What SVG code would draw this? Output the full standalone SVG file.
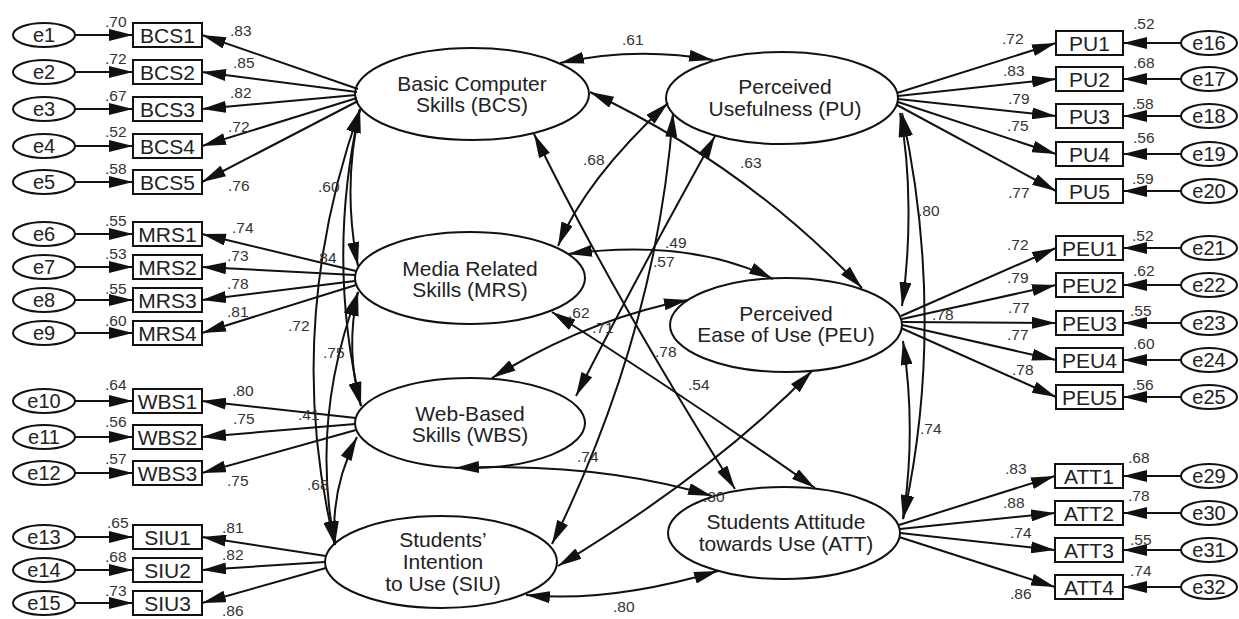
<svg xmlns="http://www.w3.org/2000/svg" width="1239" height="619" viewBox="0 0 1239 619">
<defs>
<marker id="ah" viewBox="0 0 24 12" markerUnits="userSpaceOnUse" markerWidth="24" markerHeight="12" refX="24" refY="6" orient="auto-start-reverse"><path d="M0,0 L24,6 L0,12 z" fill="#111"/></marker>
</defs>
<style>
.lat{fill:#fff;stroke:#111;stroke-width:2}
.box{fill:#fff;stroke:#111;stroke-width:2}
.err{fill:#fff;stroke:#111;stroke-width:2}
.c{fill:none;stroke:#111;stroke-width:2;marker-end:url(#ah)}
.d{fill:none;stroke:#111;stroke-width:2;marker-start:url(#ah);marker-end:url(#ah)}
text{font-family:"Liberation Sans",Arial,sans-serif;fill:#222}
.lt{font-size:21px;text-anchor:middle}
.bt{font-size:21px;text-anchor:middle}
.et{font-size:20px;text-anchor:middle}
.n{font-size:15.5px;fill:#333}
</style>
<rect width="1239" height="619" fill="#fff"/>
<g id="latents">
<g id="BCS"><ellipse class="lat" cx="472" cy="94" rx="117" ry="46"/><text class="lt" x="472" y="91">Basic Computer</text><text class="lt" x="472" y="112">Skills (BCS)</text></g>
<g id="MRS"><ellipse class="lat" cx="470" cy="278" rx="115" ry="46"/><text class="lt" x="470" y="276">Media Related</text><text class="lt" x="470" y="297">Skills (MRS)</text></g>
<g id="WBS"><ellipse class="lat" cx="470" cy="423" rx="115" ry="45"/><text class="lt" x="470" y="421">Web-Based</text><text class="lt" x="470" y="442">Skills (WBS)</text></g>
<g id="SIU"><ellipse class="lat" cx="441" cy="562" rx="116" ry="46"/><text class="lt" x="443" y="547">Students’</text><text class="lt" x="443" y="569">Intention</text><text class="lt" x="443" y="591">to Use (SIU)</text></g>
<g id="PU"><ellipse class="lat" cx="782" cy="98" rx="116" ry="46"/><text class="lt" x="785" y="94">Perceived</text><text class="lt" x="785" y="116">Usefulness (PU)</text></g>
<g id="PEU"><ellipse class="lat" cx="786" cy="325" rx="116" ry="47"/><text class="lt" x="786" y="321">Perceived</text><text class="lt" x="786" y="342">Ease of Use (PEU)</text></g>
<g id="ATT"><ellipse class="lat" cx="784" cy="533" rx="116" ry="46"/><text class="lt" x="786" y="529">Students Attitude</text><text class="lt" x="786" y="551">towards Use (ATT)</text></g>
</g>
<g id="indicators">
<g id="BCS1"><rect class="box" x="133" y="23" width="69" height="24"/><text class="bt" x="167.5" y="42.5">BCS1</text></g>
<g id="BCS2"><rect class="box" x="133" y="60" width="69" height="24"/><text class="bt" x="167.5" y="79.5">BCS2</text></g>
<g id="BCS3"><rect class="box" x="133" y="97" width="69" height="24"/><text class="bt" x="167.5" y="116.5">BCS3</text></g>
<g id="BCS4"><rect class="box" x="133" y="134" width="69" height="24"/><text class="bt" x="167.5" y="153.5">BCS4</text></g>
<g id="BCS5"><rect class="box" x="133" y="170" width="69" height="24"/><text class="bt" x="167.5" y="189.5">BCS5</text></g>
<g id="MRS1"><rect class="box" x="133" y="222" width="69" height="24"/><text class="bt" x="167.5" y="241.5">MRS1</text></g>
<g id="MRS2"><rect class="box" x="133" y="255" width="69" height="24"/><text class="bt" x="167.5" y="274.5">MRS2</text></g>
<g id="MRS3"><rect class="box" x="133" y="288" width="69" height="24"/><text class="bt" x="167.5" y="307.5">MRS3</text></g>
<g id="MRS4"><rect class="box" x="133" y="321" width="69" height="24"/><text class="bt" x="167.5" y="340.5">MRS4</text></g>
<g id="WBS1"><rect class="box" x="133" y="389" width="69" height="24"/><text class="bt" x="167.5" y="408.5">WBS1</text></g>
<g id="WBS2"><rect class="box" x="133" y="425" width="69" height="24"/><text class="bt" x="167.5" y="444.5">WBS2</text></g>
<g id="WBS3"><rect class="box" x="133" y="461" width="69" height="24"/><text class="bt" x="167.5" y="480.5">WBS3</text></g>
<g id="SIU1"><rect class="box" x="133" y="525" width="69" height="24"/><text class="bt" x="167.5" y="544.5">SIU1</text></g>
<g id="SIU2"><rect class="box" x="133" y="558" width="69" height="24"/><text class="bt" x="167.5" y="577.5">SIU2</text></g>
<g id="SIU3"><rect class="box" x="133" y="591" width="69" height="24"/><text class="bt" x="167.5" y="610.5">SIU3</text></g>
<g id="PU1"><rect class="box" x="1056" y="31" width="67" height="24"/><text class="bt" x="1089.5" y="50.5">PU1</text></g>
<g id="PU2"><rect class="box" x="1056" y="67" width="67" height="24"/><text class="bt" x="1089.5" y="86.5">PU2</text></g>
<g id="PU3"><rect class="box" x="1056" y="104" width="67" height="24"/><text class="bt" x="1089.5" y="123.5">PU3</text></g>
<g id="PU4"><rect class="box" x="1056" y="142" width="67" height="24"/><text class="bt" x="1089.5" y="161.5">PU4</text></g>
<g id="PU5"><rect class="box" x="1056" y="179" width="67" height="24"/><text class="bt" x="1089.5" y="198.5">PU5</text></g>
<g id="PEU1"><rect class="box" x="1056" y="236" width="67" height="24"/><text class="bt" x="1089.5" y="255.5">PEU1</text></g>
<g id="PEU2"><rect class="box" x="1056" y="273" width="67" height="24"/><text class="bt" x="1089.5" y="292.5">PEU2</text></g>
<g id="PEU3"><rect class="box" x="1056" y="311" width="67" height="24"/><text class="bt" x="1089.5" y="330.5">PEU3</text></g>
<g id="PEU4"><rect class="box" x="1056" y="348" width="67" height="24"/><text class="bt" x="1089.5" y="367.5">PEU4</text></g>
<g id="PEU5"><rect class="box" x="1056" y="385" width="67" height="24"/><text class="bt" x="1089.5" y="404.5">PEU5</text></g>
<g id="ATT1"><rect class="box" x="1055" y="464" width="68" height="24"/><text class="bt" x="1089" y="483.5">ATT1</text></g>
<g id="ATT2"><rect class="box" x="1055" y="501" width="68" height="24"/><text class="bt" x="1089" y="520.5">ATT2</text></g>
<g id="ATT3"><rect class="box" x="1055" y="538" width="68" height="24"/><text class="bt" x="1089" y="557.5">ATT3</text></g>
<g id="ATT4"><rect class="box" x="1055" y="575" width="68" height="24"/><text class="bt" x="1089" y="594.5">ATT4</text></g>
</g>
<g id="errors">
<g id="e1"><ellipse class="err" cx="44" cy="35" rx="31" ry="12"/><text class="et" x="44" y="42">e1</text></g>
<g id="e2"><ellipse class="err" cx="44" cy="72" rx="31" ry="12"/><text class="et" x="44" y="79">e2</text></g>
<g id="e3"><ellipse class="err" cx="44" cy="109" rx="31" ry="12"/><text class="et" x="44" y="116">e3</text></g>
<g id="e4"><ellipse class="err" cx="44" cy="146" rx="31" ry="12"/><text class="et" x="44" y="153">e4</text></g>
<g id="e5"><ellipse class="err" cx="44" cy="182" rx="31" ry="12"/><text class="et" x="44" y="189">e5</text></g>
<g id="e6"><ellipse class="err" cx="44" cy="234" rx="31" ry="12"/><text class="et" x="44" y="241">e6</text></g>
<g id="e7"><ellipse class="err" cx="44" cy="267" rx="31" ry="12"/><text class="et" x="44" y="274">e7</text></g>
<g id="e8"><ellipse class="err" cx="44" cy="300" rx="31" ry="12"/><text class="et" x="44" y="307">e8</text></g>
<g id="e9"><ellipse class="err" cx="44" cy="333" rx="31" ry="12"/><text class="et" x="44" y="340">e9</text></g>
<g id="e10"><ellipse class="err" cx="44" cy="401" rx="31" ry="12"/><text class="et" x="44" y="408">e10</text></g>
<g id="e11"><ellipse class="err" cx="44" cy="437" rx="31" ry="12"/><text class="et" x="44" y="444">e11</text></g>
<g id="e12"><ellipse class="err" cx="44" cy="473" rx="31" ry="12"/><text class="et" x="44" y="480">e12</text></g>
<g id="e13"><ellipse class="err" cx="44" cy="537" rx="31" ry="12"/><text class="et" x="44" y="544">e13</text></g>
<g id="e14"><ellipse class="err" cx="44" cy="570" rx="31" ry="12"/><text class="et" x="44" y="577">e14</text></g>
<g id="e15"><ellipse class="err" cx="44" cy="603" rx="31" ry="12"/><text class="et" x="44" y="610">e15</text></g>
<g id="e16"><ellipse class="err" cx="1209" cy="43" rx="28" ry="12"/><text class="et" x="1209" y="50">e16</text></g>
<g id="e17"><ellipse class="err" cx="1209" cy="79" rx="28" ry="12"/><text class="et" x="1209" y="86">e17</text></g>
<g id="e18"><ellipse class="err" cx="1209" cy="116" rx="28" ry="12"/><text class="et" x="1209" y="123">e18</text></g>
<g id="e19"><ellipse class="err" cx="1209" cy="154" rx="28" ry="12"/><text class="et" x="1209" y="161">e19</text></g>
<g id="e20"><ellipse class="err" cx="1209" cy="191" rx="28" ry="12"/><text class="et" x="1209" y="198">e20</text></g>
<g id="e21"><ellipse class="err" cx="1209" cy="248" rx="28" ry="12"/><text class="et" x="1209" y="255">e21</text></g>
<g id="e22"><ellipse class="err" cx="1209" cy="285" rx="28" ry="12"/><text class="et" x="1209" y="292">e22</text></g>
<g id="e23"><ellipse class="err" cx="1209" cy="323" rx="28" ry="12"/><text class="et" x="1209" y="330">e23</text></g>
<g id="e24"><ellipse class="err" cx="1209" cy="360" rx="28" ry="12"/><text class="et" x="1209" y="367">e24</text></g>
<g id="e25"><ellipse class="err" cx="1209" cy="397" rx="28" ry="12"/><text class="et" x="1209" y="404">e25</text></g>
<g id="e29"><ellipse class="err" cx="1209" cy="476" rx="28" ry="12"/><text class="et" x="1209" y="483">e29</text></g>
<g id="e30"><ellipse class="err" cx="1209" cy="513" rx="28" ry="12"/><text class="et" x="1209" y="520">e30</text></g>
<g id="e31"><ellipse class="err" cx="1209" cy="550" rx="28" ry="12"/><text class="et" x="1209" y="557">e31</text></g>
<g id="e32"><ellipse class="err" cx="1209" cy="587" rx="28" ry="12"/><text class="et" x="1209" y="594">e32</text></g>
</g>
<g id="connectors">
<path class="c" d="M75,35H133"/><path class="c" d="M75,72H133"/><path class="c" d="M75,109H133"/><path class="c" d="M75,146H133"/><path class="c" d="M75,182H133"/>
<path class="c" d="M75,234H133"/><path class="c" d="M75,267H133"/><path class="c" d="M75,300H133"/><path class="c" d="M75,333H133"/>
<path class="c" d="M75,401H133"/><path class="c" d="M75,437H133"/><path class="c" d="M75,473H133"/>
<path class="c" d="M75,537H133"/><path class="c" d="M75,570H133"/><path class="c" d="M75,603H133"/>
<path class="c" d="M1181,43H1123"/><path class="c" d="M1181,79H1123"/><path class="c" d="M1181,116H1123"/><path class="c" d="M1181,154H1123"/><path class="c" d="M1181,191H1123"/>
<path class="c" d="M1181,248H1123"/><path class="c" d="M1181,285H1123"/><path class="c" d="M1181,323H1123"/><path class="c" d="M1181,360H1123"/><path class="c" d="M1181,397H1123"/>
<path class="c" d="M1181,476H1123"/><path class="c" d="M1181,513H1123"/><path class="c" d="M1181,550H1123"/><path class="c" d="M1181,587H1123"/>
<path class="c" d="M358,89L202,35"/><path class="c" d="M357,92L202,72"/><path class="c" d="M356,95L202,109"/><path class="c" d="M357,98L202,146"/><path class="c" d="M358,101L202,182"/>
<path class="c" d="M356,271L202,234"/><path class="c" d="M355,275L202,267"/><path class="c" d="M355,281L202,300"/><path class="c" d="M356,285L202,333"/>
<path class="c" d="M356,418L202,401"/><path class="c" d="M355,424L202,437"/><path class="c" d="M356,430L202,473"/>
<path class="c" d="M326,556L202,537"/><path class="c" d="M325,562L202,570"/><path class="c" d="M326,568L202,603"/>
<path class="c" d="M897,93L1056,43"/><path class="c" d="M898,96L1056,79"/><path class="c" d="M898,99L1056,116"/><path class="c" d="M898,102L1056,154"/><path class="c" d="M897,105L1056,191"/>
<path class="c" d="M901,316L1056,248"/><path class="c" d="M902,319L1056,285"/><path class="c" d="M902,322L1056,323"/><path class="c" d="M902,325L1056,360"/><path class="c" d="M901,328L1056,397"/>
<path class="c" d="M899,525L1055,476"/><path class="c" d="M900,529L1055,513"/><path class="c" d="M900,533L1055,550"/><path class="c" d="M899,537L1055,587"/>
<path class="d" d="M360,109Q342,188 358,266"/>
<path class="d" d="M360,109Q326,258 361,406"/>
<path class="d" d="M360,109Q282,330 335,545"/>
<path class="d" d="M358,292Q345,350 361,406"/>
<path class="d" d="M358,292Q310,420 335,545"/>
<path class="d" d="M357,437Q330,490 335,545"/>
<path class="d" d="M900,113C911,170 911,245 902,306"/>
<path class="d" d="M903,341C912,400 912,460 903,519"/>
<path class="d" d="M902,113C932,250 932,390 903,519"/>
<path class="d" d="M560,63Q636,46 713,60"/>
<path class="d" d="M590,92Q745,165 862,288"/>
<path class="d" d="M558,246Q585,180 668,103"/>
<path class="d" d="M568,254Q690,238 773,279"/>
<path class="d" d="M576,396Q635,280 715,136"/>
<path class="d" d="M492,378Q590,318 688,300"/>
<path class="d" d="M552,544Q657,331 673,113"/>
<path class="d" d="M558,566Q715,471 812,371"/>
<path class="d" d="M526,595Q610,603 718,571"/>
<path class="d" d="M455,468Q600,462 712,496"/>
<path class="d" d="M534,134Q610,290 735,489"/>
<path class="d" d="M552,312Q683,395 815,488"/>
</g>
<g id="labels">
<text class="n" x="105" y="27">.70</text><text class="n" x="105" y="64">.72</text><text class="n" x="105" y="101">.67</text><text class="n" x="105" y="137">.52</text><text class="n" x="105" y="174">.58</text>
<text class="n" x="230" y="36">.83</text><text class="n" x="233" y="68">.85</text><text class="n" x="230" y="98">.82</text><text class="n" x="228" y="132">.72</text><text class="n" x="228" y="191">.76</text>
<text class="n" x="105" y="226">.55</text><text class="n" x="105" y="259">.53</text><text class="n" x="105" y="294">.55</text><text class="n" x="105" y="326">.60</text>
<text class="n" x="232" y="233">.74</text><text class="n" x="227" y="261">.73</text><text class="n" x="227" y="289">.78</text><text class="n" x="227" y="317">.81</text>
<text class="n" x="105" y="390">.64</text><text class="n" x="105" y="427">.56</text><text class="n" x="105" y="464">.57</text>
<text class="n" x="232" y="396">.80</text><text class="n" x="233" y="424">.75</text><text class="n" x="227" y="486">.75</text>
<text class="n" x="107" y="528">.65</text><text class="n" x="105" y="562">.68</text><text class="n" x="105" y="596">.73</text>
<text class="n" x="222" y="533">.81</text><text class="n" x="222" y="560">.82</text><text class="n" x="222" y="616">.86</text>
<text class="n" x="1133" y="29">.52</text><text class="n" x="1133" y="68">.68</text><text class="n" x="1132" y="109">.58</text><text class="n" x="1133" y="143">.56</text><text class="n" x="1132" y="184">.59</text>
<text class="n" x="1002" y="44">.72</text><text class="n" x="1003" y="76">.83</text><text class="n" x="1008" y="104">.79</text><text class="n" x="1007" y="131">.75</text><text class="n" x="1008" y="198">.77</text>
<text class="n" x="1132" y="241">.52</text><text class="n" x="1133" y="276">.62</text><text class="n" x="1130" y="316">.55</text><text class="n" x="1133" y="349">.60</text><text class="n" x="1132" y="390">.56</text>
<text class="n" x="1007" y="250">.72</text><text class="n" x="1007" y="283">.79</text><text class="n" x="1008" y="313">.77</text><text class="n" x="1007" y="340">.77</text><text class="n" x="1012" y="375">.78</text>
<text class="n" x="1128" y="463">.68</text><text class="n" x="1128" y="501">.78</text><text class="n" x="1130" y="545">.55</text><text class="n" x="1130" y="576">.74</text>
<text class="n" x="1005" y="474">.83</text><text class="n" x="1003" y="508">.88</text><text class="n" x="1010" y="538">.74</text><text class="n" x="1010" y="599">.86</text>
<text class="n" x="318" y="192">.60</text><text class="n" x="315" y="263">.84</text><text class="n" x="288" y="331">.72</text><text class="n" x="323" y="358">.75</text><text class="n" x="298" y="420">.41</text><text class="n" x="307" y="490">.68</text>
<text class="n" x="918" y="216">.80</text><text class="n" x="932" y="320">.78</text><text class="n" x="920" y="434">.74</text>
<text class="n" x="622" y="45">.61</text><text class="n" x="740" y="168">.63</text><text class="n" x="583" y="165">.68</text>
<text class="n" x="665" y="248">.49</text><text class="n" x="653" y="267">.57</text><text class="n" x="592" y="333">.71</text><text class="n" x="568" y="318">.62</text>
<text class="n" x="655" y="357">.78</text><text class="n" x="688" y="390">.54</text><text class="n" x="577" y="462">.74</text><text class="n" x="703" y="502">.30</text>
<text class="n" x="613" y="612">.80</text>
</g>
</svg>
